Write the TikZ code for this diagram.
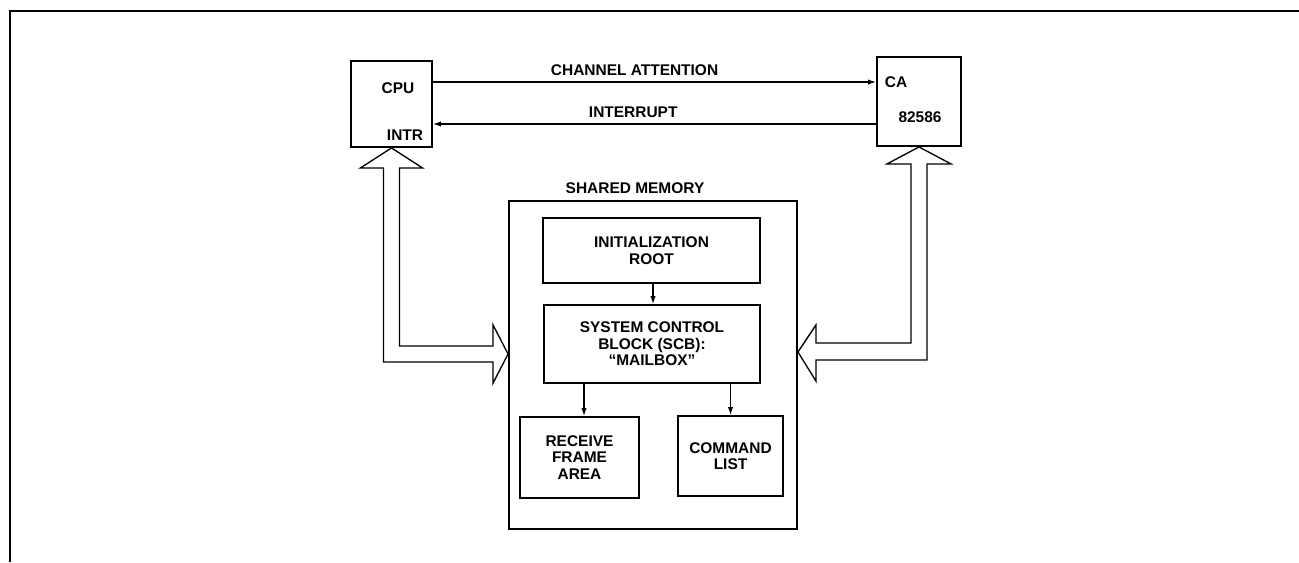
\documentclass[tikz,border=0pt]{standalone}
\usepackage{fontspec}
\setmainfont{Liberation Sans}
\usetikzlibrary{arrows.meta,calc}

\tikzset{
  box/.style={draw, line width=1.4pt, inner sep=0pt, align=center},
  lbl/.style={inner sep=0pt, align=center},
  sig/.style={line width=0.9pt, -{Latex[length=6pt,width=4pt]}},
  bus/.style={line width=1pt, line join=miter},
}

\begin{document}
\begin{tikzpicture}[x=0.75pt,y=-0.75pt, font=\fontsize{11.6}{12.4}\selectfont\bfseries]
\useasboundingbox (0,0) rectangle (1299,562);
% frame
\draw[line width=1.5pt] (10,562) -- (10,11) -- (1299,11);
% processors
\node[box, minimum width=60.75pt, minimum height=64.5pt] (cpu) at (391.5,104) {};
\node[box, minimum width=63pt, minimum height=66.75pt] (ca) at (919,101.5) {};
\node[lbl] (cpu-name) at (398,88) {CPU};
\node[lbl] (cpu-intr) at (405,135) {INTR};
\node[lbl] (ca-pin) at (896,82) {CA};
\node[lbl] (ca-name) at (920,117) {82586};
% signals
\draw[sig] (cpu.east |- 0,82) -- (ca.west |- 0,82)
  node[lbl, pos=0.455, above=4pt] {CHANNEL ATTENTION};
\draw[sig] (ca.west |- 0,124) -- (cpu.east |- 0,124)
  node[lbl, pos=0.548, above=4pt] {INTERRUPT};
% shared memory
\node[lbl] (mem-name) at (635,188) {SHARED MEMORY};
\node[box, minimum width=216pt, minimum height=246pt] (mem) at (653,365) {};
\node[box, minimum width=162.75pt, minimum height=48.75pt] (init) at (651.5,250.5) {INITIALIZATION\\ROOT};
\node[box, minimum width=162pt, minimum height=58.5pt] (scb) at (652,344) {SYSTEM CONTROL\\BLOCK (SCB):\\``MAILBOX''};
\node[box, minimum width=89.25pt, minimum height=60.75pt] (rfa) at (579.5,457.5) {RECEIVE\\FRAME\\AREA};
\node[box, minimum width=78.75pt, minimum height=60pt] (cbl) at (730.5,456) {COMMAND\\LIST};
\draw[sig] (init.south -| 653,0) -- (scb.north -| 653,0);
\draw[sig] (scb.south -| 584,0) -- (rfa.north -| 584,0);
\draw[sig] (scb.south -| cbl.north) -- (cbl.north);
% buses
\coordinate (ltip) at (mem.west |- 0,354);
\coordinate (rtip) at (mem.east |- 0,352);
\draw[bus] (cpu.south) -- ++(31,20) -- ++(-23,0) |- ($(ltip)+(-15,-8)$)
  -- ++(0,-21) -- (ltip) -- ++(-15,29) -- ++(0,-21)
  -| ($(cpu.south)+(-8,20)$) -- ++(-23,0) -- cycle;
\draw[bus] (ca.south) -- ++(-32,17) -- ++(24,0) |- ($(rtip)+(18,-9)$)
  -- ++(0,-18) -- (rtip) -- ++(18,29) -- ++(0,-21)
  -| ($(ca.south)+(8,17)$) -- ++(24,0) -- cycle;
\end{tikzpicture}
\end{document}
